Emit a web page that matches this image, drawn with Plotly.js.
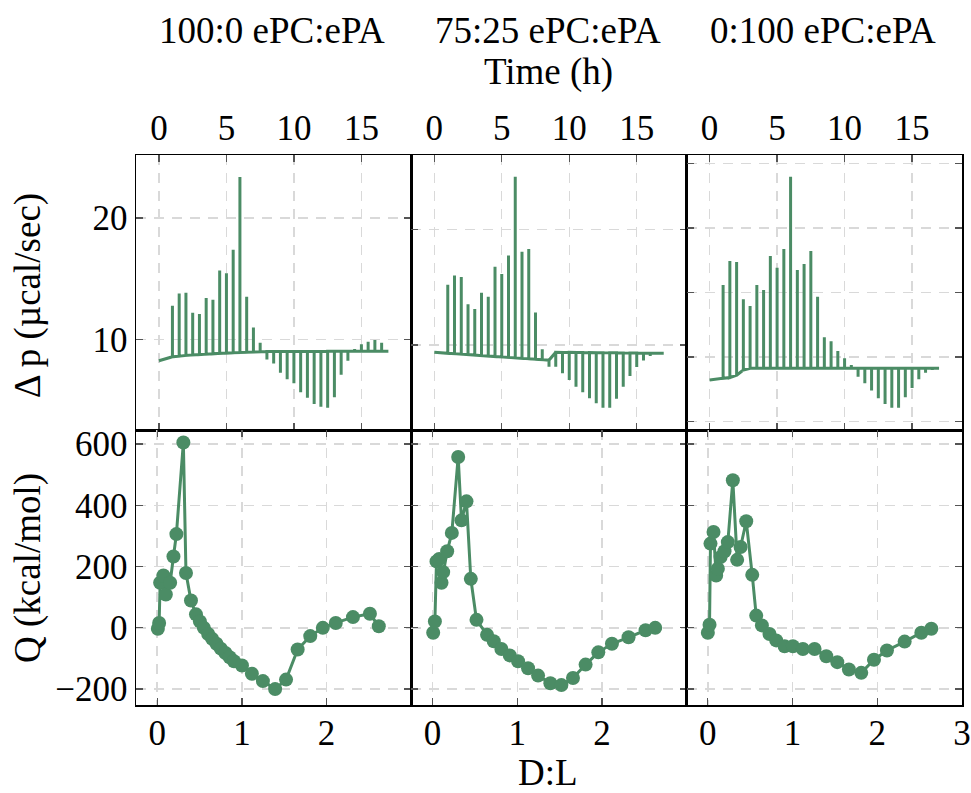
<!DOCTYPE html>
<html>
<head>
<meta charset="utf-8">
<script src="https://cdn.plot.ly/plotly-3.0.1.min.js"></script>
<style>html,body{margin:0;padding:0;background:#fff;}#chart{width:971px;height:793px;}</style>
</head>
<body>
<div id="chart"></div>
<script>
// ---------- DATA ----------
const panelTitles = ["100:0 ePC:ePA", "75:25 ePC:ePA", "0:100 ePC:ePA"];
const injTime = [1,1.5,2,2.5,3,3.5,4,4.5,5,5.5,6,6.5,7,7.5,8,8.5,9,9.5,10,10.5,11,11.5,12,12.5,13,13.5,14,14.5,15,15.5,16,16.5];

// Panel 1 (100:0) thermogram, µcal/sec
const p1LeadT = [0, 0.5];
const p1LeadV = [8.24, 8.42];
const p1Peak = [12.77,13.78,13.83,12.19,12.08,13.40,13.26,15.67,15.45,17.37,23.37,13.51,10.98,9.72,8.35,8.02,7.26,6.71,6.38,5.64,5.20,4.68,4.46,4.38,5.23,7.09,8.24,9.20,9.59,9.81,9.94,9.72];
const p1Base = [8.57,8.62,8.68,8.72,8.75,8.78,8.81,8.85,8.87,8.90,8.92,8.94,8.96,8.98,9.00,9.00,9.00,9.00,9.00,9.01,9.01,9.01,9.01,9.02,9.02,9.02,9.02,9.02,9.03,9.03,9.03,9.03];
const p1TailT = [17];
const p1TailV = [9.03];

// Panel 2 (75:25)
const p2LeadT = [0];
const p2LeadV = [9.37];
const p2Peak = [15.22,16.02,15.88,13.52,13.11,14.52,14.18,16.77,16.14,17.75,24.55,18.07,18.30,12.82,9.63,8.13,8.13,7.55,6.97,6.40,5.91,5.39,4.96,4.58,4.58,5.36,6.40,7.32,8.10,8.65,9.05,9.42];
const p2Base = [9.28,9.25,9.21,9.17,9.13,9.08,9.04,9.00,8.97,8.93,8.88,8.84,8.81,8.77,8.73,8.69,9.37,9.36,9.36,9.35,9.35,9.34,9.33,9.33,9.32,9.32,9.31,9.30,9.30,9.29,9.29,9.28];
const p2TailT = [17];
const p2TailV = [9.28];

// Panel 3 (0:100)
const p3LeadT = [0, 0.5];
const p3LeadV = [8.23, 8.27];
const p3Peak = [15.58,17.44,17.36,14.47,13.95,15.58,15.19,17.83,16.92,18.37,23.97,16.74,17.21,18.21,14.68,11.53,11.22,10.47,9.90,9.39,8.48,7.97,7.40,6.81,6.37,6.08,6.08,6.88,7.61,8.28,8.79,9.00];
const p3Base = [8.36,8.41,8.59,9.00,9.13,9.13,9.13,9.13,9.13,9.13,9.13,9.13,9.13,9.13,9.13,9.13,9.13,9.13,9.13,9.13,9.13,9.13,9.13,9.13,9.13,9.13,9.13,9.13,9.13,9.13,9.13,9.13];
const p3TailT = [17];
const p3TailV = [9.13];

// Integrated heats, Q (kcal/mol) vs D:L
const q1DL = [0.008,0.023,0.035,0.074,0.102,0.153,0.192,0.227,0.309,0.340,0.399,0.458,0.504,0.551,0.602,0.649,0.700,0.751,0.806,0.856,0.907,1.001,1.118,1.248,1.392,1.521,1.658,1.807,1.955,2.108,2.311,2.511,2.616];
const q1Q  = [-3,16,147,171,109,147,233,306,605,179,89,44,21,0,-20,-36,-52,-68,-82,-96,-109,-123,-150,-174,-200,-169,-71,-27,0,16,35,46,5];

const q2DL = [0.008,0.028,0.047,0.079,0.106,0.126,0.173,0.228,0.303,0.342,0.401,0.452,0.519,0.644,0.723,0.813,0.912,1.010,1.128,1.246,1.391,1.521,1.658,1.807,1.957,2.118,2.314,2.515,2.629];
const q2Q  = [-16,21,217,225,147,182,250,310,558,351,413,160,26,-23,-44,-69,-90,-109,-132,-156,-181,-187,-164,-120,-80,-52,-31,-8,0];

const q3DL = [0.000,0.020,0.031,0.067,0.098,0.118,0.150,0.197,0.236,0.295,0.346,0.386,0.453,0.524,0.571,0.638,0.728,0.807,0.906,1.004,1.122,1.260,1.398,1.528,1.665,1.811,1.961,2.114,2.323,2.520,2.638];
const q3Q  = [-16,10,275,313,171,193,231,250,280,482,222,264,348,173,40,8,-20,-41,-60,-60,-69,-69,-93,-112,-136,-147,-104,-74,-45,-16,-3];

const timeTicks = [0,5,10,15];
const dlTicksInner = [0,1,2];
const dlTicksLast = [0,1,2,3];

// ---------- BUILD ----------
const green = '#4b8c65';
function thermo(leadT, leadV, peak, base, tailT, tailV) {
  const x = leadT.slice(), y = leadV.slice();
  for (let i = 0; i < injTime.length; i++) {
    x.push(injTime[i], injTime[i], injTime[i]);
    y.push(base[i], peak[i], base[i]);
  }
  return {x: x.concat(tailT), y: y.concat(tailV)};
}
const t1 = thermo(p1LeadT,p1LeadV,p1Peak,p1Base,p1TailT,p1TailV);
const t2 = thermo(p2LeadT,p2LeadV,p2Peak,p2Base,p2TailT,p2TailV);
const t3 = thermo(p3LeadT,p3LeadV,p3Peak,p3Base,p3TailT,p3TailV);

const traces = [
  {x:t1.x, y:t1.y, xaxis:'x', yaxis:'y', mode:'lines', line:{color:green,width:3}, hoverinfo:'skip'},
  {x:t2.x, y:t2.y, xaxis:'x2', yaxis:'y2', mode:'lines', line:{color:green,width:3}, hoverinfo:'skip'},
  {x:t3.x, y:t3.y, xaxis:'x3', yaxis:'y3', mode:'lines', line:{color:green,width:3}, hoverinfo:'skip'},
  {x:q1DL, y:q1Q, xaxis:'x4', yaxis:'y4', mode:'lines+markers', line:{color:green,width:3}, marker:{color:green,size:14}},
  {x:q2DL, y:q2Q, xaxis:'x5', yaxis:'y5', mode:'lines+markers', line:{color:green,width:3}, marker:{color:green,size:14}},
  {x:q3DL, y:q3Q, xaxis:'x6', yaxis:'y6', mode:'lines+markers', line:{color:green,width:3}, marker:{color:green,size:14}}
];

const FONT = 'Liberation Serif, Times New Roman, serif';
const common = {
  showline:true, linecolor:'#000', linewidth:1.5, mirror:'ticks',
  ticks:'inside', ticklen:7, tickwidth:1.2, tickcolor:'#555',
  showgrid:true, gridcolor:'#d9d9d9', gridwidth:1.4, griddash:'10px,8px',
  zeroline:false, tickfont:{family:FONT, size:35, color:'#000'}
};
function ax(extra){ return Object.assign({}, common, extra); }

const thirds = [[0,1/3],[1/3,2/3],[2/3,1]];
const TF = {family:FONT, size:37, color:'#000'};
const layout = {
  width:971, height:793,
  margin:{l:136, r:9, t:155, b:88},
  paper_bgcolor:'#fff', plot_bgcolor:'#fff',
  showlegend:false,
  font:{family:FONT, size:35, color:'#000'},
  xaxis:  ax({domain:thirds[0], anchor:'y',  side:'top', range:[-1.7,18.7], tickvals:timeTicks}),
  xaxis2: ax({domain:thirds[1], anchor:'y2', side:'top', range:[-1.7,18.7], tickvals:timeTicks}),
  xaxis3: ax({domain:thirds[2], anchor:'y3', side:'top', range:[-1.7,18.7], tickvals:timeTicks}),
  yaxis:  ax({domain:[0.5,1], anchor:'x',  range:[2.54,25.18], tickvals:[10,20]}),
  yaxis2: ax({domain:[0.5,1], anchor:'x2', range:[2.65,26.43], tickvals:[10,20], showticklabels:false}),
  yaxis3: ax({domain:[0.5,1], anchor:'x3', range:[4.35,25.65], tickvals:[5,10,15,20,25], showticklabels:false}),
  xaxis4: ax({domain:thirds[0], anchor:'y4', range:[-0.25,3], tickvals:dlTicksInner, ticklabelstandoff:-4}),
  xaxis5: ax({domain:thirds[1], anchor:'y5', range:[-0.25,3], tickvals:dlTicksInner, ticklabelstandoff:-4}),
  xaxis6: ax({domain:thirds[2], anchor:'y6', range:[-0.25,3], tickvals:dlTicksLast, ticklabelstandoff:-4}),
  yaxis4: ax({domain:[0,0.5], anchor:'x4', range:[-252,646], tickvals:[-200,0,200,400,600]}),
  yaxis5: ax({domain:[0,0.5], anchor:'x5', range:[-252,646], tickvals:[-200,0,200,400,600], showticklabels:false}),
  yaxis6: ax({domain:[0,0.5], anchor:'x6', range:[-252,646], tickvals:[-200,0,200,400,600], showticklabels:false}),
  annotations: [
    {text:panelTitles[0], x:0.1646, y:1.227, xref:'paper', yref:'paper', showarrow:false, xanchor:'center', yanchor:'middle', font:TF},
    {text:panelTitles[1], x:0.4988, y:1.227, xref:'paper', yref:'paper', showarrow:false, xanchor:'center', yanchor:'middle', font:TF},
    {text:panelTitles[2], x:0.8317, y:1.227, xref:'paper', yref:'paper', showarrow:false, xanchor:'center', yanchor:'middle', font:TF},
    {text:'Time (h)', x:0.4988, y:1.151, xref:'paper', yref:'paper', showarrow:false, xanchor:'center', yanchor:'middle', font:TF},
    {text:'D:L', x:0.4988, y:-0.1236, xref:'paper', yref:'paper', showarrow:false, xanchor:'center', yanchor:'middle', font:TF},
    {text:'Δ p (µcal/sec)', x:-0.1308, y:0.745, xref:'paper', yref:'paper', showarrow:false, textangle:-90, xanchor:'center', yanchor:'middle', font:TF},
    {text:'Q (kcal/mol)', x:-0.1308, y:0.249, xref:'paper', yref:'paper', showarrow:false, textangle:-90, xanchor:'center', yanchor:'middle', font:TF}
  ]
};

Plotly.newPlot('chart', traces, layout, {displayModeBar:false, staticPlot:true});
</script>
</body>
</html>
